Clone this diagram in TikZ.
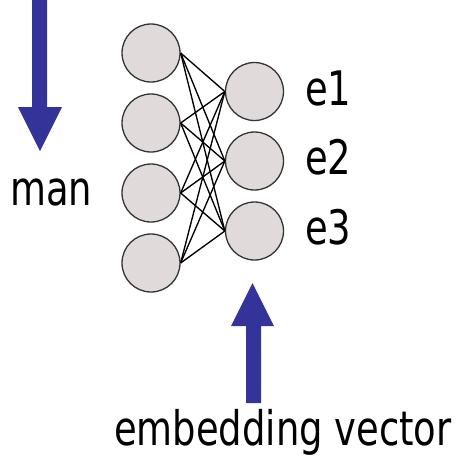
\documentclass[tikz,border=0pt]{standalone}
\usepackage{graphicx}
\usepackage{fontspec}
\setmainfont{DejaVu Sans Condensed}
\definecolor{nfill}{HTML}{E1DADA}
\definecolor{arrowblue}{HTML}{333399}
\newcommand{\talltext}[1]{\scalebox{1}[1.16]{#1}}
\begin{document}
\begin{tikzpicture}[x=1pt,y=-1pt,
  neuron/.style={circle,draw=black!80,line width=1.3pt,fill=nfill,minimum size=58pt,inner sep=0pt},
  link/.style={black,line width=1.35pt},
  bigarrow/.style={fill=arrowblue},
  lbl/.style={anchor=base west,inner sep=0pt,font=\fontsize{41}{48}\selectfont}]
\useasboundingbox (0,0) rectangle (458,459);

% input layer
\foreach \i/\y in {1/53,2/123,3/193,4/263}
  \node[neuron] (in\i) at (151,\y) {};
% embedding layer
\foreach \j/\y in {1/91.5,2/161,3/231}
  \node[neuron] (em\j) at (254.5,\y) {};

% full connections
\foreach \i in {1,...,4}
  \foreach \j in {1,2,3}
    \draw[link] (in\i.east) -- (em\j.west);

% labels of the embedding units
\node[lbl] (l1) at (305,105) {\talltext{e1}};
\node[lbl] (l2) at (305,174) {\talltext{e2}};
\node[lbl] (l3) at (305,244) {\talltext{e3}};

% input word with its arrow
\fill[bigarrow] (32,0) -- (47,0) -- (47,107) -- (62,107) -- (40,151)
  -- (18,107) -- (32,107) -- cycle;
\node[lbl] (word) at (10,205) {\talltext{man}};

% output arrow with its caption
\fill[bigarrow] (246,403) -- (261,403) -- (261,326) -- (274,326) -- (252.5,283)
  -- (231,326) -- (246,326) -- cycle;
\node[lbl] (caption) at (114,445) {\talltext{embedding vector}};
\end{tikzpicture}
\end{document}
